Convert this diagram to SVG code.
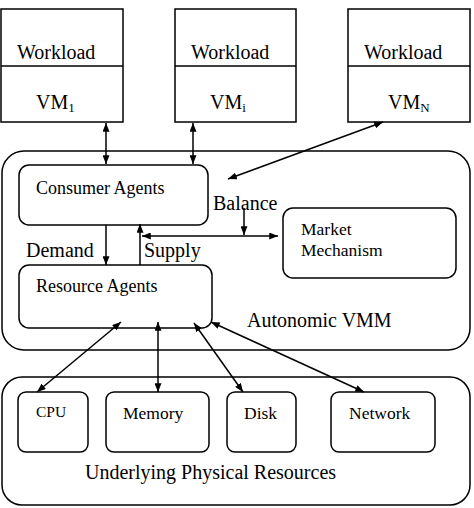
<svg xmlns="http://www.w3.org/2000/svg" width="474" height="508" viewBox="0 0 474 508" font-family="'Liberation Serif', 'Times New Roman', serif">
<style>
.b{fill:#fff;stroke:#000;stroke-width:1.5}
.t{fill:#000}
.c{stroke:#000;stroke-width:1.5;fill:none;marker-end:url(#ah);marker-start:url(#ah)}
.e{stroke:#000;stroke-width:1.5;fill:none;marker-end:url(#ah)}
</style>
<defs>
<marker id="ah" viewBox="0 0 10 8" refX="10" refY="4" markerWidth="9" markerHeight="7" markerUnits="userSpaceOnUse" orient="auto-start-reverse">
<path d="M0,0 L10,4 L0,8 z" fill="#000"/>
</marker>
</defs>
<rect width="474" height="508" fill="#fff"/>

<g id="vm1">
<rect class="b" x="1" y="9" width="122" height="113"/>
<line x1="1" y1="66" x2="123" y2="66" stroke="#000" stroke-width="1.5"/>
<text class="t" x="17" y="59" font-size="20">Workload</text>
<text class="t" x="36" y="109" font-size="20">VM<tspan font-size="13" dy="3">1</tspan></text>
</g>
<g id="vmi">
<rect class="b" x="175" y="9" width="121" height="113"/>
<line x1="175" y1="66" x2="296" y2="66" stroke="#000" stroke-width="1.5"/>
<text class="t" x="191" y="59" font-size="20">Workload</text>
<text class="t" x="210" y="109" font-size="20">VM<tspan font-size="13" dy="3">i</tspan></text>
</g>
<g id="vmn">
<rect class="b" x="348" y="9" width="122" height="113"/>
<line x1="348" y1="66" x2="470" y2="66" stroke="#000" stroke-width="1.5"/>
<text class="t" x="364" y="59" font-size="20">Workload</text>
<text class="t" x="388" y="109" font-size="20">VM<tspan font-size="13" dy="3">N</tspan></text>
</g>

<g id="vmm">
<rect class="b" x="2" y="151" width="468" height="199" rx="22"/>
<text class="t" x="247" y="327" font-size="20">Autonomic VMM</text>
</g>
<g id="consumer">
<rect class="b" x="19" y="165" width="189" height="60" rx="10"/>
<text class="t" x="36" y="194" font-size="18">Consumer Agents</text>
</g>
<g id="market">
<rect class="b" x="283" y="208" width="173" height="70" rx="10"/>
<text class="t" x="301" y="235" font-size="17.5">Market</text>
<text class="t" x="301" y="256" font-size="17.5">Mechanism</text>
</g>
<g id="resource">
<rect class="b" x="19" y="265" width="193" height="63" rx="10"/>
<text class="t" x="36" y="292" font-size="18">Resource Agents</text>
</g>

<g id="phys">
<rect class="b" x="2" y="377" width="468" height="128" rx="20"/>
<text class="t" x="85" y="479" font-size="20">Underlying Physical Resources</text>
</g>
<g id="cpu">
<rect class="b" x="18" y="392" width="70" height="60" rx="8"/>
<text class="t" x="36" y="417" font-size="15.5">CPU</text>
</g>
<g id="memory">
<rect class="b" x="106" y="392" width="103" height="60" rx="8"/>
<text class="t" x="123" y="419" font-size="17.5">Memory</text>
</g>
<g id="disk">
<rect class="b" x="227" y="392" width="69" height="60" rx="8"/>
<text class="t" x="244" y="419" font-size="17.5">Disk</text>
</g>
<g id="network">
<rect class="b" x="331" y="392" width="104" height="60" rx="8"/>
<text class="t" x="349" y="419" font-size="17.5">Network</text>
</g>

<g id="connectors">
<line class="c" x1="106" y1="123" x2="106" y2="164"/>
<line class="c" x1="193" y1="123" x2="193" y2="164"/>
<line class="c" x1="383" y1="122" x2="228" y2="179"/>
<line class="e" x1="106" y1="225" x2="106" y2="265"/>
<line class="e" x1="140" y1="265" x2="140" y2="224"/>
<line class="c" x1="142" y1="236" x2="278" y2="236"/>
<line class="e" x1="244" y1="208" x2="244" y2="235"/>
<line class="c" x1="121" y1="322" x2="37" y2="392"/>
<line class="c" x1="158" y1="322" x2="158" y2="392"/>
<line class="c" x1="194" y1="323" x2="243" y2="392"/>
<line class="c" x1="211" y1="322" x2="364" y2="392"/>
</g>
<text class="t" x="213" y="210" font-size="20">Balance</text>
<text class="t" x="26" y="257" font-size="20">Demand</text>
<text class="t" x="144" y="257" font-size="20">Supply</text>
</svg>
